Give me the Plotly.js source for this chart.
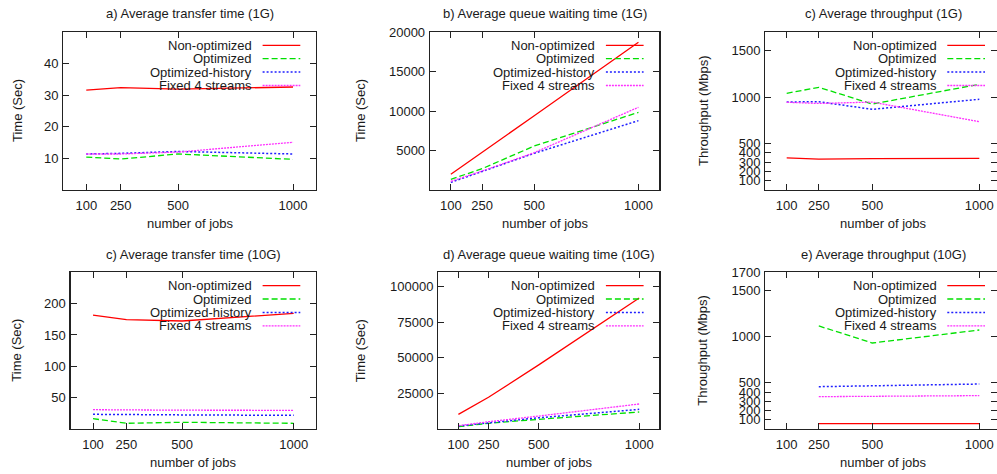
<!DOCTYPE html>
<html><head><meta charset="utf-8">
<script src="https://cdn.plot.ly/plotly-3.0.1.min.js"></script>
<style>html,body{margin:0;padding:0;background:#fff;}#chart{width:997px;height:474px;}</style>
</head><body><div id="chart"></div>
<script>
// ---------- data ----------
const jobs = [100, 250, 500, 1000];
const jobsThroughput10G = [250, 500, 1000];
const xTickVals = [100, 250, 500, 1000];
const seriesNames = ['Non-optimized', 'Optimized', 'Optimized-history', 'Fixed 4 streams'];
const panelTitles = [
  'a) Average transfer time (1G)',
  'b) Average queue waiting time (1G)',
  'c) Average throughput (1G)',
  'c) Average transfer time (10G)',
  'd) Average queue waiting time (10G)',
  'e) Average throughput (10G)'
];
const xTitle = 'number of jobs';
const yTitleTime = 'Time (Sec)';
const yTitleThroughput = 'Throughput (Mbps)';

// a) transfer time 1G
const transfer1G_nonOpt  = [31.6, 32.4, 31.9, 32.6];
const transfer1G_opt     = [10.4, 9.8, 11.4, 9.7];
const transfer1G_optHist = [11.4, 11.6, 12.2, 11.4];
const transfer1G_fixed4  = [11.4, 11.4, 12.0, 15.1];
const transfer1G_ticks   = [10, 20, 30, 40];

// b) queue waiting time 1G
const queue1G_nonOpt  = [2000, 4750, 9400, 18700];
const queue1G_opt     = [1350, 2700, 5570, 9830];
const queue1G_optHist = [970, 2320, 4640, 8780];
const queue1G_fixed4  = [1100, 2400, 4730, 10470];
const queue1G_ticks   = [5000, 10000, 15000, 20000];

// c) throughput 1G
const thr1G_nonOpt  = [345, 333, 337, 341];
const thr1G_opt     = [1040, 1105, 925, 1137];
const thr1G_optHist = [947, 950, 868, 976];
const thr1G_fixed4  = [944, 931, 946, 735];
const thr1G_ticks   = [100, 200, 300, 400, 500, 1000, 1500];

// c) transfer time 10G
const transfer10G_nonOpt  = [181.8, 174.4, 172.3, 184.5];
const transfer10G_opt     = [16.5, 9.1, 10.7, 9.1];
const transfer10G_optHist = [23.4, 22.8, 22.5, 21.8];
const transfer10G_fixed4  = [30.8, 30.3, 30.0, 29.8];
const transfer10G_ticks   = [50, 100, 150, 200];

// d) queue waiting time 10G
const queue10G_nonOpt  = [10300, 22250, 45000, 92000];
const queue10G_opt     = [1640, 4000, 6800, 11930];
const queue10G_optHist = [2100, 4400, 7900, 13800];
const queue10G_fixed4  = [2300, 5100, 9100, 17550];
const queue10G_ticks   = [25000, 50000, 75000, 100000];

// e) throughput 10G (no 100-job run)
const thr10G_nonOpt  = [58, 58, 58];
const thr10G_opt     = [1118, 933, 1074];
const thr10G_optHist = [459, 466, 488];
const thr10G_fixed4  = [351, 355, 362];
const thr10G_ticks   = [100, 200, 300, 400, 500, 1000, 1500, 1700];

// ---------- styles ----------
const W = 997, H = 474;
const FONT = 'Liberation Sans, Arial, Helvetica, sans-serif';
const TXT = '#1a1a1a';
const lineStyles = [
  {color: '#ff0000', dash: 'solid', width: 1.3},
  {color: '#00e000', dash: '6px,3px', width: 1.3},
  {color: '#1f1fff', dash: '2px,2px', width: 1.5},
  {color: '#ff30ff', dash: '2px,1px', width: 1.3}
];

const panels = [
  {px: [63.3, 316], py: [32, 190], xr: [0, 1100], yr: [0, 50], yt: transfer1G_ticks,
   x: jobs, ys: [transfer1G_nonOpt, transfer1G_opt, transfer1G_optHist, transfer1G_fixed4],
   yTitle: yTitleTime, yTitleX: 17},
  {px: [430, 659.3], py: [32, 190], xr: [0, 1100], yr: [0, 20000], yt: queue1G_ticks,
   x: jobs, ys: [queue1G_nonOpt, queue1G_opt, queue1G_optHist, queue1G_fixed4],
   yTitle: yTitleTime, yTitleX: 360},
  {px: [765.3, 997], py: [32, 190], xr: [0, 1082.7], yr: [0, 1700], yt: thr1G_ticks,
   x: jobs, ys: [thr1G_nonOpt, thr1G_opt, thr1G_optHist, thr1G_fixed4],
   yTitle: yTitleThroughput, yTitleX: 703, rightEdge: 1000.7},
  {px: [70.7, 316], py: [272.3, 429], xr: [0, 1100], yr: [0, 250], yt: transfer10G_ticks,
   x: jobs, ys: [transfer10G_nonOpt, transfer10G_opt, transfer10G_optHist, transfer10G_fixed4],
   yTitle: yTitleTime, yTitleX: 17},
  {px: [438.3, 659.3], py: [272.3, 429], xr: [0, 1100], yr: [0, 110000], yt: queue10G_ticks,
   x: jobs, ys: [queue10G_nonOpt, queue10G_opt, queue10G_optHist, queue10G_fixed4],
   yTitle: yTitleTime, yTitleX: 360.5},
  {px: [765.3, 997], py: [272.3, 429], xr: [0, 1082.7], yr: [0, 1700], yt: thr10G_ticks,
   x: jobsThroughput10G, ys: [thr10G_nonOpt, thr10G_opt, thr10G_optHist, thr10G_fixed4],
   yTitle: yTitleThroughput, yTitleX: 703, rightEdge: 1000.7}
];

const fx = p => p / W;
const fy = p => 1 - p / H;

const traces = [];
const layout = {
  width: W, height: H,
  margin: {l: 0, r: 0, t: 0, b: 0},
  paper_bgcolor: '#fff', plot_bgcolor: '#fff',
  showlegend: false,
  font: {family: FONT, size: 13, color: TXT},
  annotations: [], shapes: []
};

panels.forEach((p, i) => {
  const n = i + 1;
  const xa = 'x' + (n === 1 ? '' : n), ya = 'y' + (n === 1 ? '' : n);
  const xk = 'xaxis' + (n === 1 ? '' : n), yk = 'yaxis' + (n === 1 ? '' : n);
  const common = {
    showgrid: false, zeroline: false, showline: true, mirror: 'ticks',
    linecolor: '#222', linewidth: 1.3, ticks: 'inside', ticklen: 6, tickwidth: 1,
    tickcolor: '#222', tickfont: {family: FONT, size: 13, color: TXT},
    automargin: false, fixedrange: true
  };
  layout[xk] = Object.assign({}, common, {
    domain: [fx(p.px[0]), fx(p.px[1])], range: p.xr, anchor: ya,
    tickmode: 'array', tickvals: xTickVals, ticktext: xTickVals.map(String),
    ticklabelstandoff: 3
  });
  layout[yk] = Object.assign({}, common, {
    domain: [fy(p.py[1]), fy(p.py[0])], range: p.yr, anchor: xa,
    tickmode: 'array', tickvals: p.yt, ticktext: p.yt.map(String),
    ticklabelstandoff: 1
  });
  p.ys.forEach((yv, k) => {
    traces.push({
      type: 'scatter', mode: 'lines', x: p.x, y: yv, xaxis: xa, yaxis: ya,
      name: seriesNames[k], line: lineStyles[k], hoverinfo: 'skip'
    });
  });
  const right = p.rightEdge || p.px[1];
  const cx = (p.px[0] + right) / 2;
  // panel title
  layout.annotations.push({
    xref: 'paper', yref: 'paper', x: fx(cx), y: fy(p.py[0] - 18),
    text: panelTitles[i], showarrow: false, xanchor: 'center', yanchor: 'middle',
    font: {family: FONT, size: 13, color: TXT}
  });
  // x title
  layout.annotations.push({
    xref: 'paper', yref: 'paper', x: fx(cx), y: fy(p.py[1] + 33),
    text: xTitle, showarrow: false, xanchor: 'center', yanchor: 'middle',
    font: {family: FONT, size: 13, color: TXT}
  });
  // y title
  layout.annotations.push({
    xref: 'paper', yref: 'paper', x: fx(p.yTitleX), y: fy((p.py[0] + p.py[1]) / 2),
    text: p.yTitle, showarrow: false, xanchor: 'center', yanchor: 'middle', textangle: -90,
    font: {family: FONT, size: 13, color: TXT}
  });
  // legend (gnuplot style: right-aligned text, sample on the right)
  const sampleEnd = right - 15.7;
  const sampleStart = sampleEnd - 37.7;
  seriesNames.forEach((nm, k) => {
    const rowY = p.py[0] + 13.3 + k * 13.4;
    layout.annotations.push({
      xref: 'paper', yref: 'paper', x: fx(sampleStart - 8.4), y: fy(rowY),
      text: nm, showarrow: false, xanchor: 'right', yanchor: 'middle',
      font: {family: FONT, size: 13, color: TXT}
    });
    layout.shapes.push({
      type: 'line', xref: 'paper', yref: 'paper',
      x0: fx(sampleStart), x1: fx(Math.min(sampleEnd, W)), y0: fy(rowY), y1: fy(rowY),
      line: {color: lineStyles[k].color, width: lineStyles[k].width, dash: lineStyles[k].dash}
    });
  });
});

Plotly.newPlot('chart', traces, layout, {staticPlot: true, displayModeBar: false});
</script></body></html>
